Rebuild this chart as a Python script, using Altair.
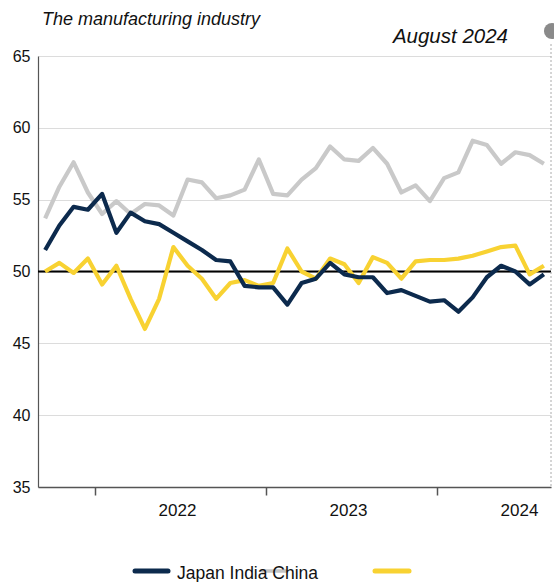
import altair as alt
import pandas as pd

months = ["2021-09", "2021-10", "2021-11", "2021-12",
          "2022-01", "2022-02", "2022-03", "2022-04", "2022-05", "2022-06",
          "2022-07", "2022-08", "2022-09", "2022-10", "2022-11", "2022-12",
          "2023-01", "2023-02", "2023-03", "2023-04", "2023-05", "2023-06",
          "2023-07", "2023-08", "2023-09", "2023-10", "2023-11", "2023-12",
          "2024-01", "2024-02", "2024-03", "2024-04", "2024-05", "2024-06",
          "2024-07", "2024-08"]
japan = [51.5, 53.2, 54.5, 54.3, 55.4, 52.7, 54.1, 53.5, 53.3, 52.7, 52.1, 51.5,
         50.8, 50.7, 49.0, 48.9, 48.9, 47.7, 49.2, 49.5, 50.6, 49.8, 49.6, 49.6,
         48.5, 48.7, 48.3, 47.9, 48.0, 47.2, 48.2, 49.6, 50.4, 50.0, 49.1, 49.8]
india = [53.7, 55.9, 57.6, 55.5, 54.0, 54.9, 54.0, 54.7, 54.6, 53.9, 56.4, 56.2,
         55.1, 55.3, 55.7, 57.8, 55.4, 55.3, 56.4, 57.2, 58.7, 57.8, 57.7, 58.6,
         57.5, 55.5, 56.0, 54.9, 56.5, 56.9, 59.1, 58.8, 57.5, 58.3, 58.1, 57.5]
china = [50.0, 50.6, 49.9, 50.9, 49.1, 50.4, 48.1, 46.0, 48.1, 51.7, 50.4, 49.5,
         48.1, 49.2, 49.4, 49.0, 49.2, 51.6, 50.0, 49.5, 50.9, 50.5, 49.2, 51.0,
         50.6, 49.5, 50.7, 50.8, 50.8, 50.9, 51.1, 51.4, 51.7, 51.8, 49.8, 50.4]
series = ["Japan", "India", "China"]
colors = ["#0c2a4d", "#c9c9c9", "#f8d232"]
year_ticks = [0, 12, 24]
y_ticks = [35, 40, 45, 50, 55, 60, 65]

rows = []
for name, vals in zip(series, [japan, india, china]):
    for i, (m, v) in enumerate(zip(months, vals)):
        rows.append({"month": m, "idx": i - 4 + 0.5, "series": name, "value": v})
df = pd.DataFrame(rows)

W, H = 513, 431
FONT = "Liberation Sans"

xscale = alt.Scale(domain=[-4, 32], nice=False, zero=False)
yscale = alt.Scale(domain=[35, 65], nice=False, zero=False)

x_enc = alt.X("idx:Q", scale=xscale, axis=alt.Axis(
    values=year_ticks, title=None, grid=False,
    labelExpr="'' + (2022 + datum.value / 12)",
    labelOffset=82, labelPadding=7, tickSize=8, tickColor="#555555",
    tickWidth=1.5, domainColor="#555555", domainWidth=1.5,
    labelFontSize=17, labelColor="#111111", labelFont=FONT))
y_enc = alt.Y("value:Q", scale=yscale, axis=alt.Axis(
    values=y_ticks, title=None, grid=True, gridColor="#dcdcdc", gridWidth=1,
    ticks=False, labelPadding=8, domainColor="#555555", domainWidth=1.2,
    labelFontSize=16, labelColor="#111111", labelFont=FONT))

base = alt.Chart(df)

def line(name, color):
    return base.transform_filter(alt.datum.series == name).mark_line(
        color=color, strokeWidth=4.2, strokeJoin="round").encode(x=x_enc, y=y_enc)

one = pd.DataFrame({"a": [0]})
ref50 = alt.Chart(one).mark_rule(color="#000000", strokeWidth=2).encode(y=alt.datum(50))

title1 = alt.Chart(one).mark_text(text="The manufacturing industry", fontStyle="italic",
    fontSize=18, font=FONT, align="left", baseline="middle", color="#111111").encode(
    x=alt.value(4), y=alt.value(-36))
title2 = alt.Chart(one).mark_text(text="August 2024", fontStyle="italic",
    fontSize=20.5, font=FONT, align="right", baseline="middle", color="#111111").encode(
    x=alt.value(470), y=alt.value(-19))

dash = alt.Chart(one).mark_rule(color="#aaaaaa", strokeDash=[2, 2], strokeWidth=1).encode(
    x=alt.value(W), y=alt.value(-12), y2=alt.value(H))
dot = alt.Chart(one).mark_point(filled=True, color="#8a8a8a", opacity=1, size=260).encode(
    x=alt.value(W + 1), y=alt.value(-25))

leg_navy = alt.Chart(one).mark_rule(color=colors[0], strokeWidth=5, strokeCap="round").encode(
    x=alt.value(97), x2=alt.value(130), y=alt.value(515))
leg_gray = alt.Chart(one).mark_rule(color="#c4c4c4", strokeWidth=3.5, strokeCap="round").encode(
    x=alt.value(224), x2=alt.value(248), y=alt.value(515))
leg_text = alt.Chart(one).mark_text(text="Japan India China", fontSize=17.5, font=FONT,
    align="left", baseline="middle", color="#111111").encode(
    x=alt.value(139), y=alt.value(518))
leg_yel = alt.Chart(one).mark_rule(color=colors[2], strokeWidth=5, strokeCap="round").encode(
    x=alt.value(337), x2=alt.value(371), y=alt.value(515))

chart = alt.layer(
    ref50, line("India", colors[1]), line("China", colors[2]), line("Japan", colors[0]),
    title1, title2, dash, dot, leg_navy, leg_gray, leg_text, leg_yel
).properties(
    width=W, height=H,
    autosize=alt.AutoSizeParams(type="none"),
    padding={"left": 38, "top": 56, "right": 3, "bottom": 95}
).configure_view(stroke=None)

chart.save("out.html", embed_options={"renderer": "svg", "actions": False})
